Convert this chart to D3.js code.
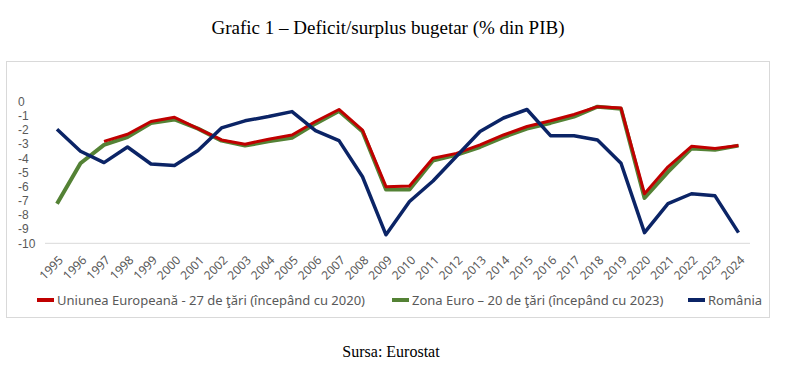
<!DOCTYPE html>
<html>
<head>
<meta charset="utf-8">
<script src="https://cdn.jsdelivr.net/npm/d3@7"></script>
<style>
  body { margin: 0; background: #fff; }
  svg { display: block; }
</style>
</head>
<body>
<div id="chart"></div>
<script>
const years = d3.range(1995, 2025).map(String);

// null = fără date
const ue27 = [null, null, -2.8, -2.3, -1.4, -1.1, -1.9, -2.7, -3.0, -2.65, -2.35, -1.4, -0.55, -2.0, -6.0, -5.95,
  -4.0, -3.65, -3.05, -2.35, -1.75, -1.35, -0.9, -0.35, -0.45, -6.5, -4.6, -3.15, -3.3, -3.1];
const zonaEuro = [-7.2, -4.35, -3.05, -2.5, -1.5, -1.25, -1.9, -2.75, -3.1, -2.8, -2.55, -1.55, -0.65, -2.1, -6.2, -6.2,
  -4.15, -3.75, -3.2, -2.5, -1.9, -1.5, -1.05, -0.35, -0.5, -6.8, -4.95, -3.3, -3.4, -3.1];
const romania = [-1.95, -3.5, -4.3, -3.2, -4.4, -4.5, -3.45, -1.85, -1.35, -1.05, -0.7, -2.05, -2.75, -5.3, -9.4, -7.05,
  -5.6, -3.85, -2.1, -1.15, -0.55, -2.4, -2.4, -2.7, -4.35, -9.25, -7.2, -6.5, -6.65, -9.25];

const yTicks = d3.range(0, -11, -1);

const series = [
  { name: 'Uniunea Europeană - 27 de ţări (începând cu 2020)', values: ue27, color: '#c00000', width: 3 },
  { name: 'Zona Euro – 20 de ţări (începând cu 2023)', values: zonaEuro, color: '#548235', width: 4 },
  { name: 'România', values: romania, color: '#0b2466', width: 3.5 }
];

const W = 808, H = 384;
const svg = d3.select('#chart').append('svg')
  .attr('width', W)
  .attr('height', H);

// titlu
svg.append('text')
  .attr('x', 388).attr('y', 34)
  .attr('text-anchor', 'middle')
  .attr('font-family', 'Liberation Serif, Times New Roman, serif')
  .attr('font-size', 19)
  .text('Grafic 1 – Deficit/surplus bugetar (% din PIB)');

// chenarul graficului
svg.append('rect')
  .attr('x', 6.5).attr('y', 61.5)
  .attr('width', 763).attr('height', 256)
  .attr('fill', '#fff')
  .attr('stroke', '#d9d9d9');

const x = d3.scalePoint().domain(years).range([57, 738.5]);
const y = d3.scaleLinear().domain([-10, 0]).range([243.3, 101.7]);

// axa -10 (linie orizontală)
svg.append('line')
  .attr('x1', 45).attr('x2', 750)
  .attr('y1', y(-10)).attr('y2', y(-10))
  .attr('stroke', '#d9d9d9');

// etichete axa Y
svg.append('g')
  .selectAll('text')
  .data(yTicks)
  .enter().append('text')
  .attr('x', 18)
  .attr('y', d => y(d))
  .attr('dy', '0.35em')
  .attr('font-family', 'Liberation Sans, Arial, sans-serif')
  .attr('font-size', 12)
  .attr('fill', '#595959')
  .text(d => d);

// etichete axa X, rotite
svg.append('g')
  .selectAll('text')
  .data(years)
  .enter().append('text')
  .attr('transform', d => `translate(${x(d) + 4},${258}) rotate(-45)`)
  .attr('text-anchor', 'end')
  .attr('dy', '0.35em')
  .attr('font-family', 'Noto Sans, Open Sans, sans-serif')
  .attr('font-size', 12)
  .attr('fill', '#595959')
  .text(d => d);

// linii
const line = d3.line()
  .defined(d => d != null)
  .x((d, i) => x(years[i]))
  .y(d => y(d));

// ordinea: Zona Euro sub UE, România deasupra
[series[1], series[0], series[2]].forEach(s => {
  svg.append('path')
    .datum(s.values)
    .attr('d', line)
    .attr('fill', 'none')
    .attr('stroke', s.color)
    .attr('stroke-width', s.width)
    .attr('stroke-linejoin', 'round');
});

// legenda
const legendX = [37, 392, 688];
const legend = svg.append('g')
  .selectAll('g')
  .data(series)
  .enter().append('g')
  .attr('transform', (d, i) => `translate(${legendX[i]},300)`);

legend.append('line')
  .attr('x1', 0).attr('x2', 17)
  .attr('stroke', d => d.color)
  .attr('stroke-width', 4);

legend.append('text')
  .attr('x', 20)
  .attr('dy', '0.35em')
  .attr('font-family', 'Noto Sans, Open Sans, sans-serif')
  .attr('font-size', 13)
  .attr('fill', '#595959')
  .text(d => d.name);

// sursa
svg.append('text')
  .attr('x', 391).attr('y', 357)
  .attr('text-anchor', 'middle')
  .attr('font-family', 'Liberation Serif, Times New Roman, serif')
  .attr('font-size', 16)
  .text('Sursa: Eurostat');
</script>
</body>
</html>
